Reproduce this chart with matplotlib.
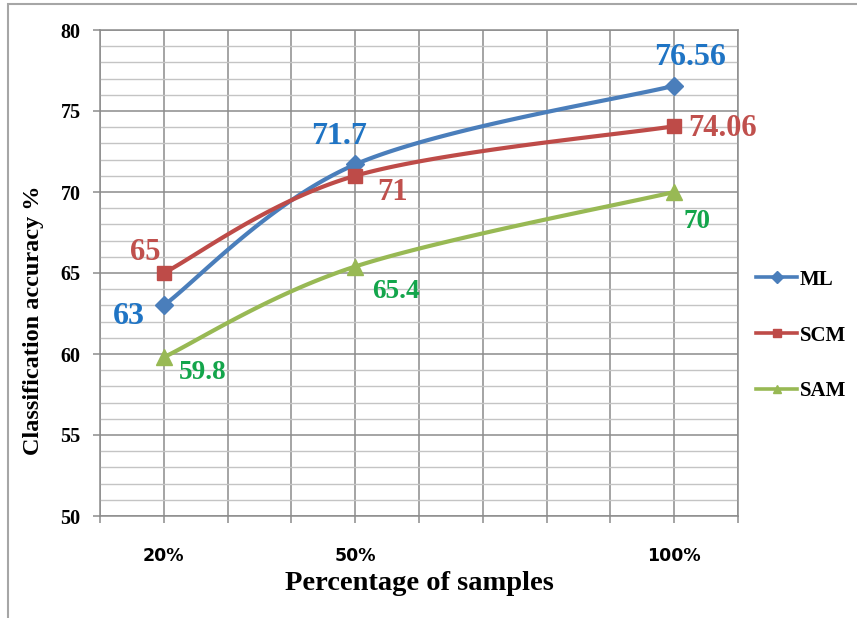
import numpy as np
import matplotlib
matplotlib.use("Agg")
import matplotlib.pyplot as plt
from matplotlib.lines import Line2D
from matplotlib.patches import Rectangle

# Sample share (%) and classification accuracy per method
sample_pct = [20, 50, 100]
tick_labels = {20: "20%", 50: "50%", 100: "100%"}
ml_acc = [63, 71.7, 76.56]
scm_acc = [65, 71, 74.06]
sam_acc = [59.8, 65.4, 70]
series_names = ["ML", "SCM", "SAM"]

line_colors = ["#4A7EBB", "#BE4B48", "#98B954"]
label_colors = ["#1F74C4", "#C0504D", "#13A54B"]
markers = ["D", "s", "^"]
marker_sizes = [9, 10, 12]
label_sizes = [23, 22, 19.5]
# offsets (points) of each value label from its point
label_offsets = [
    [(-25, -8), (-11.5, 20), (11.5, 20)],
    [(-13, 15), (26.6, -12), (10, -1.5)],
    [(28, -11), (29.5, -18), (16.5, -21.6)],
]
label_ha = [
    ["center", "center", "center"],
    ["center", "center", "left"],
    ["center", "center", "center"],
]

SERIF = "Liberation Serif"


def smooth_curve(xs, ys, n=60):
    """Cubic Bezier smoothing through the points (Catmull-Rom tangents)."""
    pts = np.column_stack([xs, ys]).astype(float)
    m = len(pts)
    out = []
    for i in range(m - 1):
        p0 = pts[max(i - 1, 0)]
        p1 = pts[i]
        p2 = pts[i + 1]
        p3 = pts[min(i + 2, m - 1)]
        c1 = p1 + (p2 - p0) / 6.0
        c2 = p2 - (p3 - p1) / 6.0
        t = np.linspace(0, 1, n)[:, None]
        seg = ((1 - t) ** 3) * p1 + 3 * ((1 - t) ** 2) * t * c1 \
            + 3 * (1 - t) * t ** 2 * c2 + t ** 3 * p2
        out.append(seg if i == 0 else seg[1:])
    out = np.vstack(out)
    return out[:, 0], out[:, 1]


fig = plt.figure(figsize=(8.57, 6.18), dpi=100)
ax = fig.add_axes([100 / 857, 1 - 516 / 618, 638 / 857, 486 / 618])

ax.set_xlim(10, 110)
ax.set_ylim(50, 80)

# grid
ax.set_yticks(np.arange(50, 81, 5))
ax.set_yticks(np.arange(50, 81, 1), minor=True)
xt = list(range(10, 111, 10))
ax.set_xticks(xt)
ax.set_xticklabels([tick_labels.get(v, "") for v in xt])
ax.grid(which="major", axis="both", color="#8C8C8C", lw=1.1)
ax.grid(which="minor", axis="y", color="#C4C4C4", lw=1.0)
ax.set_axisbelow(True)

for s in ax.spines.values():
    s.set_color("#8C8C8C")
    s.set_linewidth(1.1)

ax.tick_params(axis="y", which="major", length=5, width=1.1, color="#8C8C8C",
               pad=9, labelsize=14.5)
ax.tick_params(axis="y", which="minor", length=0)
ax.tick_params(axis="x", which="major", length=5, width=1.1, color="#8C8C8C",
               pad=17, labelsize=12.5)
for lab in ax.get_yticklabels():
    lab.set_fontfamily(SERIF)
    lab.set_fontweight("bold")
for lab in ax.get_xticklabels():
    lab.set_fontfamily("DejaVu Sans")
    lab.set_fontweight("bold")

all_series = [ml_acc, scm_acc, sam_acc]
handles = []
for k, ys in enumerate(all_series):
    sx, sy = smooth_curve(sample_pct, ys)
    ax.plot(sx, sy, color=line_colors[k], lw=3.0, solid_capstyle="round",
            zorder=3)
    ax.plot(sample_pct, ys, ls="none", marker=markers[k],
            ms=marker_sizes[k], color=line_colors[k], zorder=4)
    for j, (xv, yv) in enumerate(zip(sample_pct, ys)):
        ax.annotate(f"{yv:g}", (xv, yv), xytext=label_offsets[k][j],
                    textcoords="offset points", ha=label_ha[k][j],
                    va="center", fontsize=label_sizes[k], fontweight="bold",
                    fontfamily=SERIF, color=label_colors[k], zorder=5)
    handles.append(Line2D([], [], color=line_colors[k], lw=2.6,
                          marker=markers[k], ms=6))

ax.set_xlabel("Percentage of samples", fontsize=20.5, fontweight="bold",
              fontfamily=SERIF, labelpad=5)
fig.text(34 / 857, 1 - 320 / 618, "Classification accuracy %", rotation=90,
         ha="center", va="center", fontsize=17.5, fontweight="bold",
         fontfamily=SERIF)

leg = fig.legend(handles, series_names, loc="upper left",
                 bbox_to_anchor=(737 / 857, 1 - 251 / 618), frameon=False,
                 prop={"family": SERIF, "weight": "bold", "size": 15},
                 handlelength=2.0, handletextpad=0.1, labelspacing=1.72)

# outer chart border
fig.add_artist(Rectangle((8 / 857, -0.1), 1.2, 1 - 4 / 618 + 0.1,
                         transform=fig.transFigure, fill=False,
                         edgecolor="#A6A6A6", lw=1.5))

fig.savefig("out.png", dpi=100)
